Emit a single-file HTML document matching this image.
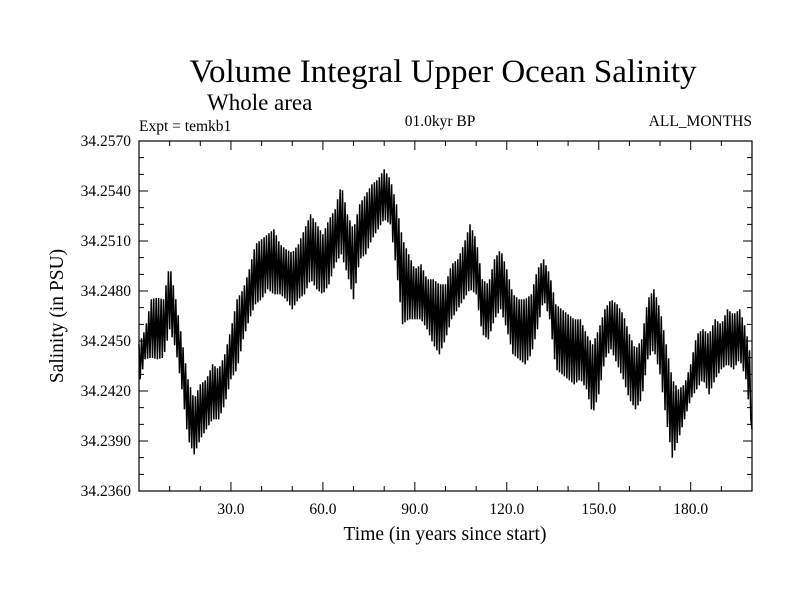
<!DOCTYPE html>
<html><head><meta charset="utf-8"><style>
body{margin:0;background:#fff}
svg text{font-family:"Liberation Serif",serif;fill:#000}
</style></head><body>
<svg id="c" width="800" height="600" xmlns="http://www.w3.org/2000/svg">
<text x="443" y="82" font-size="33" text-anchor="middle">Volume Integral Upper Ocean Salinity</text>
<text x="207" y="110" font-size="23">Whole area</text>
<text x="139" y="131" font-size="15.5">Expt = temkb1</text>
<text x="440" y="126" font-size="15.5" text-anchor="middle">01.0kyr BP</text>
<text x="752" y="126" font-size="15.5" text-anchor="end">ALL_MONTHS</text>
<text x="445" y="540" font-size="19.5" text-anchor="middle">Time (in years since start)</text>
<text transform="translate(63,316) rotate(-90)" font-size="19.5" text-anchor="middle">Salinity (in PSU)</text>
<g id="axes"></g>
<g id="series"></g>
<rect x="139" y="141" width="613" height="350" fill="none" stroke="#000" stroke-width="1.2"/>
</svg>
<script>
const years=[];for(let i=0;i<=100;i++)years.push(i*2);
const hiVals=[34.2448,34.2457,34.2475,34.2476,34.2475,34.2496,34.2475,34.2451,34.2427,34.2415,34.2424,34.2427,34.2436,34.2433,34.2442,34.2457,34.2475,34.2481,34.2493,34.2508,34.2511,34.2514,34.2517,34.2508,34.2505,34.2503,34.2508,34.2517,34.2526,34.2520,34.2514,34.2523,34.2529,34.2544,34.2526,34.2517,34.2532,34.2538,34.2544,34.2547,34.2553,34.2547,34.2532,34.2511,34.2502,34.2493,34.2496,34.2487,34.2487,34.2484,34.2484,34.2496,34.2499,34.2508,34.2520,34.2511,34.2487,34.2484,34.2499,34.2505,34.2493,34.2478,34.2475,34.2475,34.2478,34.2493,34.2499,34.2490,34.2472,34.2469,34.2466,34.2463,34.2463,34.2454,34.2448,34.2457,34.2469,34.2475,34.2472,34.2466,34.2454,34.2445,34.2451,34.2475,34.2481,34.2469,34.2448,34.2427,34.2421,34.2424,34.2436,34.2454,34.2457,34.2454,34.2463,34.2460,34.2469,34.2466,34.2469,34.2457,34.2436];
const loVals=[34.2424,34.2439,34.2440,34.2439,34.2440,34.2457,34.2445,34.2421,34.2391,34.2382,34.2391,34.2397,34.2403,34.2403,34.2412,34.2427,34.2433,34.2451,34.2463,34.2472,34.2475,34.2481,34.2478,34.2478,34.2475,34.2469,34.2475,34.2478,34.2487,34.2481,34.2478,34.2484,34.2496,34.2502,34.2490,34.2475,34.2499,34.2502,34.2511,34.2517,34.2523,34.2520,34.2493,34.2460,34.2463,34.2463,34.2463,34.2457,34.2448,34.2442,34.2451,34.2463,34.2469,34.2475,34.2481,34.2478,34.2454,34.2451,34.2463,34.2469,34.2457,34.2442,34.2439,34.2436,34.2442,34.2457,34.2475,34.2463,34.2433,34.2430,34.2427,34.2424,34.2427,34.2421,34.2406,34.2418,34.2439,34.2445,34.2436,34.2427,34.2415,34.2409,34.2415,34.2439,34.2445,34.2430,34.2403,34.2380,34.2391,34.2403,34.2415,34.2421,34.2427,34.2418,34.2427,34.2433,34.2436,34.2433,34.2439,34.2427,34.2397];
const xTickLabels=["30.0","60.0","90.0","120.0","150.0","180.0"];
const xTickVals=[30,60,90,120,150,180];
const yTickLabels=["34.2360","34.2390","34.2420","34.2450","34.2480","34.2510","34.2540","34.2570"];
const yTickVals=[34.236,34.239,34.242,34.245,34.248,34.251,34.254,34.257];
const X0=139,X1=752,Y0=491,Y1=141,xmin=0,xmax=200,ymin=34.236,ymax=34.257;
const sx=v=>X0+(v-xmin)/(xmax-xmin)*(X1-X0);
const sy=v=>Y0-(v-ymin)/(ymax-ymin)*(Y0-Y1);
const NS="http://www.w3.org/2000/svg";
const axes=document.getElementById('axes');
function mk(tag,at,parent){const e=document.createElementNS(NS,tag);for(const k in at)e.setAttribute(k,at[k]);parent.appendChild(e);return e;}
let d="";
for(let t=10;t<200;t+=10){const x=sx(t),L=(t%30===0)?9:5;d+=`M${x},${Y0}v${-L}M${x},${Y1}v${L}`;}
for(let k=1;k<21;k++){const v=ymin+k*0.001,y=sy(v),L=(k%3===0)?9:5;d+=`M${X0},${y}h${L}M${X1},${y}h${-L}`;}
const tk=mk('path',{d:d,stroke:'#000','stroke-width':1,fill:'none'},axes);


xTickVals.forEach((v,i)=>{const t=mk('text',{x:sx(v),y:514,'font-size':15.5,'text-anchor':'middle'},axes);t.textContent=xTickLabels[i];

});
yTickVals.forEach((v,i)=>{const t=mk('text',{x:131,y:sy(v)+5,'font-size':15.5,'text-anchor':'end'},axes);t.textContent=yTickLabels[i];

});
let p="",SUB=5,first=true,cnt=0;
for(let i=0;i<years.length-1;i++){for(let s=0;s<SUB;s++){const f=s/SUB,yr=years[i]+f*(years[i+1]-years[i]);
const hi=hiVals[i]+f*(hiVals[i+1]-hiVals[i]),lo=loVals[i]+f*(loVals[i+1]-loVals[i]);
const v=(cnt%2===0)?hi:lo;cnt++;p+=(first?"M":"L")+sx(yr).toFixed(1)+","+sy(v).toFixed(1);first=false;}}
p+="L"+sx(years[years.length-1])+","+sy(loVals[loVals.length-1]);
const ln=mk('path',{d:p,stroke:'#000','stroke-width':1.5,fill:'none','stroke-linejoin':'miter'},document.getElementById('series'));


</script>
</body></html>
